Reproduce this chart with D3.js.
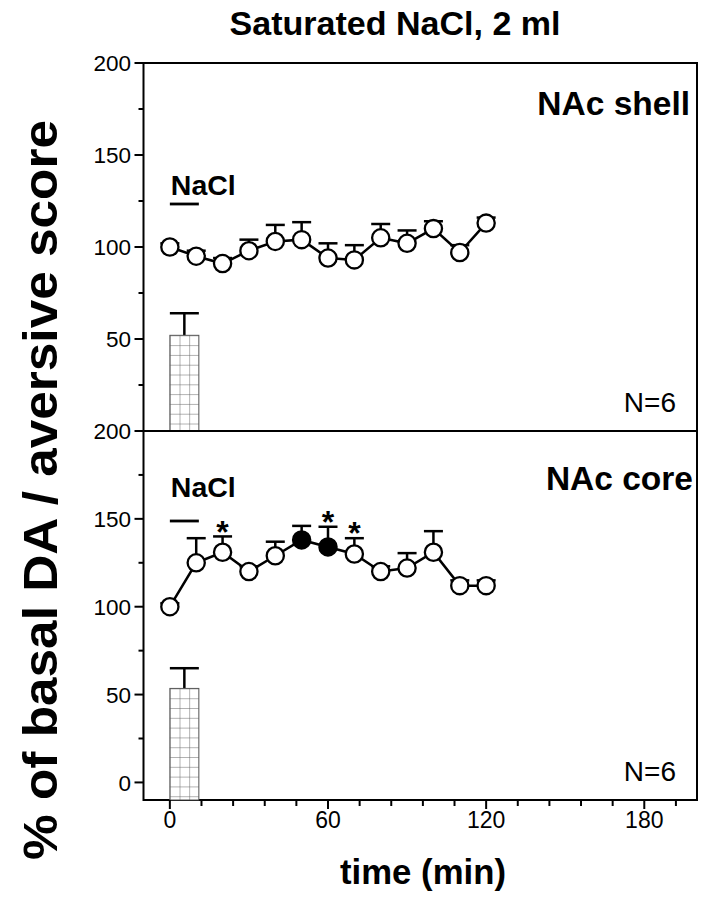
<!DOCTYPE html>
<html>
<head>
<meta charset="utf-8">
<script src="https://cdn.jsdelivr.net/npm/d3@7"></script>
<style>
  html, body { margin: 0; padding: 0; background: #fff; }
  svg { display: block; }
  text { font-family: "Liberation Sans", Arial, Helvetica, sans-serif; fill: #000; }
</style>
</head>
<body>
<script>
// ---------------- data ----------------
const timeMin    = [0, 10, 20, 30, 40, 50, 60, 70, 80, 90, 100, 110, 120];
const shellMean  = [100, 95, 91, 98, 103, 104, 94, 93, 105, 102, 110, 97, 113];
const shellSem   = [2, 3, 3, 6, 9, 9.5, 8, 8, 7.5, 7, 4, 4, 3];
const coreMean   = [100, 125, 131, 120, 129, 138, 134, 130, 120, 122, 131, 112, 112];
const coreSem    = [2, 14, 9, 3, 8, 8, 11.5, 9, 3, 8.5, 12, 3, 3];
const coreFilled = [false, false, false, false, false, true, true, false, false, false, false, false, false];
const coreStar   = [false, false, true, false, false, false, true, true, false, false, false, false, false];
const aversiveScore = [52, 53.5];        // shell, core
const aversiveSem   = [12, 11.5];
const barSpan       = [0, 11];           // min
const naclSpan      = [0, 11];           // min
const xMajorTicks   = [0, 60, 120, 180];
const xMinorTicks   = [12, 24, 36, 48, 72, 84, 96, 108, 132, 144, 156, 168, 192];
const yTopMajor     = [50, 100, 150, 200];
const yBotMajor     = [0, 50, 100, 150, 200];
const yMinor        = [25, 75, 125, 175];
const panelLabels   = ["NAc shell", "NAc core"];
const nLabels       = ["N=6", "N=6"];

// ---------------- layout ----------------
const W = 702, H = 899;
const L = 143.5, R = 697;
const svg = d3.select("body").append("svg").attr("width", W).attr("height", H);

const x = d3.scaleLinear().domain([-10, 200]).range([L, R]);
const yTop = d3.scaleLinear().domain([0, 200]).range([431, 63]);
const yBot = d3.scaleLinear().domain([-10, 200]).range([800, 431]);

const defs = svg.append("defs");

function panel(y, mean, sem, filled, star, idx, majorTicks) {
  const g = svg.append("g");
  const [y0, y1] = y.range();
  g.append("rect").attr("x", L).attr("y", y1).attr("width", R - L).attr("height", y0 - y1)
    .attr("fill", "none").attr("stroke", "#000").attr("stroke-width", 2);

  g.selectAll(".maj").data(majorTicks).join("line")
    .attr("x1", L - 9).attr("x2", L).attr("y1", d => y(d)).attr("y2", d => y(d))
    .attr("stroke", "#000").attr("stroke-width", 2);
  g.selectAll(".min").data(yMinor).join("line")
    .attr("x1", L - 5).attr("x2", L).attr("y1", d => y(d)).attr("y2", d => y(d))
    .attr("stroke", "#000").attr("stroke-width", 2);
  g.selectAll(".lab").data(majorTicks).join("text")
    .attr("x", L - 12.5).attr("y", d => y(d)).attr("dy", "0.36em")
    .attr("text-anchor", "end").attr("font-size", 22.5).text(d => d);

  // bar (aversive score)
  const bx0 = x(barSpan[0]), bx1 = x(barSpan[1]);
  const bTop = y(aversiveScore[idx]);
  const bBot = y0;
  const pid = "hatch" + idx;
  const cw = (bx1 - bx0) / 3;
  const pat = defs.append("pattern").attr("id", pid).attr("patternUnits", "userSpaceOnUse")
    .attr("x", bx0).attr("y", bTop).attr("width", cw).attr("height", 9.8);
  pat.append("rect").attr("width", cw).attr("height", 9.8).attr("fill", "#fff");
  pat.append("line").attr("x1", 0).attr("x2", 0).attr("y1", 0).attr("y2", 9.8)
    .attr("stroke", "#666").attr("stroke-width", 1);
  pat.append("line").attr("x1", 0).attr("x2", cw).attr("y1", 0).attr("y2", 0)
    .attr("stroke", "#666").attr("stroke-width", 1);
  const bCap = y(aversiveScore[idx] + aversiveSem[idx]);
  g.append("line").attr("x1", (bx0 + bx1) / 2).attr("x2", (bx0 + bx1) / 2)
    .attr("y1", bTop).attr("y2", bCap).attr("stroke", "#000").attr("stroke-width", 2.5);
  g.append("line").attr("x1", bx0).attr("x2", bx1).attr("y1", bCap).attr("y2", bCap)
    .attr("stroke", "#000").attr("stroke-width", 2.5);
  g.append("rect").attr("x", bx0).attr("y", bTop).attr("width", bx1 - bx0).attr("height", bBot - bTop)
    .attr("fill", `url(#${pid})`).attr("stroke", "#555").attr("stroke-width", 1);

  const pts = timeMin.map((t, i) => ({ t, m: mean[i], s: sem[i], f: filled[i], st: star[i] }));
  g.append("path").datum(pts)
    .attr("d", d3.line().x(d => x(d.t)).y(d => y(d.m)))
    .attr("fill", "none").attr("stroke", "#000").attr("stroke-width", 2.5);
  g.selectAll(".ev").data(pts).join("line")
    .attr("x1", d => x(d.t)).attr("x2", d => x(d.t))
    .attr("y1", d => y(d.m)).attr("y2", d => y(d.m + d.s))
    .attr("stroke", "#000").attr("stroke-width", 2.5);
  g.selectAll(".ec").data(pts).join("line")
    .attr("x1", d => x(d.t) - 9.5).attr("x2", d => x(d.t) + 9.5)
    .attr("y1", d => y(d.m + d.s)).attr("y2", d => y(d.m + d.s))
    .attr("stroke", "#000").attr("stroke-width", 2.5);
  g.selectAll(".pt").data(pts).join("circle")
    .attr("cx", d => x(d.t)).attr("cy", d => y(d.m)).attr("r", 8.6)
    .attr("fill", d => d.f ? "#000" : "#fff").attr("stroke", "#000").attr("stroke-width", 2.3);
  g.selectAll(".st").data(pts.filter(d => d.st)).join("text")
    .attr("x", d => x(d.t)).attr("y", d => y(d.m + d.s) - 10.5 + 0.52 * 32)
    .attr("text-anchor", "middle").attr("font-size", 32).attr("font-weight", "bold").text("*");

  g.append("text").attr("x", idx === 0 ? 690 : 693).attr("y", idx === 0 ? 115 : 490)
    .attr("text-anchor", "end").attr("font-size", 33.5).attr("font-weight", "bold")
    .text(panelLabels[idx]);
  g.append("text").attr("x", 676).attr("y", idx === 0 ? 412 : 781)
    .attr("text-anchor", "end").attr("font-size", 28).text(nLabels[idx]);
  const ny = idx === 0 ? 204 : 521;
  g.append("line").attr("x1", x(naclSpan[0])).attr("x2", x(naclSpan[1]))
    .attr("y1", ny).attr("y2", ny).attr("stroke", "#000").attr("stroke-width", 2.8);
  g.append("text").attr("x", x(naclSpan[0]) + 1).attr("y", idx === 0 ? 195 : 497)
    .attr("font-size", 28.5).attr("font-weight", "bold").text("NaCl");
  return g;
}

panel(yTop, shellMean, shellSem, shellMean.map(() => false), shellMean.map(() => false), 0, yTopMajor);
panel(yBot, coreMean, coreSem, coreFilled, coreStar, 1, yBotMajor);

const xa = svg.append("g");
xa.selectAll(".xm").data(xMajorTicks).join("line")
  .attr("x1", d => x(d)).attr("x2", d => x(d)).attr("y1", 800).attr("y2", 809)
  .attr("stroke", "#000").attr("stroke-width", 2);
xa.selectAll(".xn").data(xMinorTicks).join("line")
  .attr("x1", d => x(d)).attr("x2", d => x(d)).attr("y1", 800).attr("y2", 806)
  .attr("stroke", "#000").attr("stroke-width", 2);
xa.selectAll(".xl").data(xMajorTicks).join("text")
  .attr("x", d => x(d)).attr("y", 828).attr("text-anchor", "middle").attr("font-size", 23)
  .text(d => d);

svg.append("text").attr("x", 395).attr("y", 35).attr("text-anchor", "middle")
  .attr("font-size", 33).attr("font-weight", "bold")
  .attr("textLength", 331).attr("lengthAdjust", "spacingAndGlyphs")
  .text("Saturated NaCl, 2 ml");
svg.append("text").attr("x", 423).attr("y", 884).attr("text-anchor", "middle")
  .attr("font-size", 35).attr("font-weight", "bold")
  .attr("textLength", 166).attr("lengthAdjust", "spacingAndGlyphs")
  .text("time (min)");
svg.append("text").attr("transform", "translate(57,490) rotate(-90)")
  .attr("text-anchor", "middle").attr("font-size", 48).attr("font-weight", "bold")
  .attr("textLength", 740).attr("lengthAdjust", "spacingAndGlyphs")
  .text("% of basal DA / aversive score");
</script>
</body>
</html>
